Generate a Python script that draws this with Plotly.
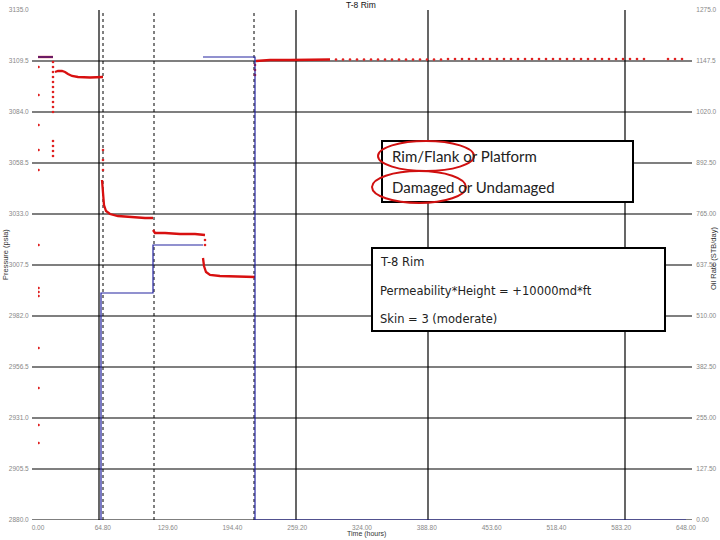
import plotly.graph_objects as go

# ---------------- data ----------------
time_ticks = [0, 64.8, 129.6, 194.4, 259.2, 324.0, 388.8, 453.6, 518.4, 583.2, 648.0]
time_tick_labels = ["0.00", "64.80", "129.60", "194.40", "259.20", "324.00",
                    "388.80", "453.60", "518.40", "583.20", "648.00"]

pressure_ticks = [2880.0, 2905.5, 2931.0, 2956.5, 2982.0, 3007.5, 3033.0, 3058.5, 3084.0, 3109.5, 3135.0]
pressure_tick_labels = ["2880.0", "2905.5", "2931.0", "2956.5", "2982.0", "3007.5",
                        "3033.0", "3058.5", "3084.0", "3109.5", "3135.0"]

rate_ticks = [0, 127.5, 255.0, 382.5, 510.0, 637.5, 765.0, 892.5, 1020.0, 1147.5, 1275.0]
rate_tick_labels = ["0.00", "127.50", "255.00", "382.50", "510.00", "637.50",
                    "765.00", "892.50", "1020.0", "1147.5", "1275.0"]

# gauge pressure, continuous segments (None separates segments)
p_seg_time = [0, 15, None,
              17, 20, 24, 27, 30, 34, 40, 52, 65, None,
              64, 65, 66, 68, 72, 80, 92, 107, 115, None,
              115, 117, 127, 142, 157, 167, None,
              165, 166, 168, 172, 182, 202, 217, None,
              218, 222, 232, 252, 272, 292]
p_seg_psia = [3111.5, 3111.5, None,
              3104.0, 3104.5, 3104.5, 3104.0, 3103.0, 3102.0, 3101.5, 3101.25, 3101.5, None,
              3050.0, 3042.5, 3037.5, 3034.5, 3033.0, 3032.0, 3031.5, 3031.0, 3031.0, None,
              3025.0, 3023.5, 3023.5, 3023.0, 3023.0, 3022.5, None,
              3011.0, 3007.0, 3004.0, 3002.5, 3002.0, 3001.5, 3001.5, None,
              3109.5, 3109.75, 3110.0, 3110.0, 3110.25, 3110.25]

# isolated gauge samples (rate changes, spikes, late sparse recording)
p_dot_time = [15, 15, 15, 15, 15, 15, 15, 15, 15, 15, 15, 15, 15, 15, 15,
              65, 65, 65, 167, 167, 217, 217, 217,
              0.5, 0.5, 0.5, 0.5, 0.5, 0.5, 0.5, 0.5, 0.5, 0.5, 0.5, 0.5, 0.5,
              298, 305, 312, 319, 326, 333, 340, 347, 354, 361, 368, 375, 382, 389, 396, 403,
              410, 417, 424, 431, 438, 445, 452, 459, 466, 473, 480, 487, 494, 501, 508, 515,
              522, 529, 536, 543, 550, 557, 564, 571, 578, 585, 592, 599, 606, 630, 637, 644]
p_dot_psia = [3109.0, 3106.5, 3104.0, 3101.5, 3099.0, 3096.5, 3094.0, 3091.5, 3089.0, 3086.5, 3084.0,
              3069.5, 3067.0, 3064.5, 3062.0,
              3065.0, 3060.0, 3055.0, 3020.0, 3017.5, 3102.5, 3105.0, 3107.5,
              3106.5, 3092.5, 3077.5, 3065.0, 3055.0, 3017.5, 2996.0, 2994.0, 2992.0, 2966.0, 2946.0, 2927.5, 2918.5,
              3110.25, 3110.25, 3110.25, 3110.25, 3110.25, 3110.25, 3110.25, 3110.25, 3110.25, 3110.25,
              3110.25, 3110.25, 3110.25, 3110.25, 3110.25, 3110.25, 3110.5, 3110.5, 3110.5, 3110.5,
              3110.5, 3110.5, 3110.5, 3110.5, 3110.5, 3110.5, 3110.5, 3110.5, 3110.5, 3110.5,
              3110.5, 3110.5, 3110.5, 3110.5, 3110.5, 3110.5, 3110.5, 3110.5, 3110.5, 3110.5,
              3110.5, 3110.5, 3110.5, 3110.5, 3110.5, 3110.5, 3110.5, 3110.5]

# oil rate schedule (STB/day), segments separated by None
rate_time = [0, 15, None, 63, 63, 115, 115, 165, None, 165, 217, 217, 648]
rate_stb = [1157.5, 1157.5, None, 0, 567.5, 567.5, 687.5, 687.5, None, 1157.5, 1157.5, 0, 0]

# event markers on the time axis
event_solid = [61, 258, 390, 587]
event_dotted = [65, 116, 216]

# ---------------- layout helpers ----------------
W, H = 720, 540
L, R, T, B = 38, 686, 10, 520          # plot area in pixels


def fx(px):
    return (px - L) / (R - L)


def fy(py):
    return (B - py) / (B - T)


fig = go.Figure()

fig.add_trace(go.Scatter(x=rate_time, y=rate_stb, mode="lines", yaxis="y2",
                         line=dict(color="#2424a0", width=1.2), connectgaps=False,
                         hoverinfo="skip", showlegend=False))
fig.add_trace(go.Scatter(x=p_seg_time, y=p_seg_psia, mode="lines",
                         line=dict(color="#d81010", width=2.3), connectgaps=False,
                         showlegend=False))
fig.add_trace(go.Scatter(x=p_dot_time, y=p_dot_psia, mode="markers",
                         marker=dict(color="#e02020", size=2.6), showlegend=False))

shapes = []
# horizontal grid (no line at the top tick)
for v in pressure_ticks[:-1]:
    shapes.append(dict(type="line", xref="paper", yref="y", x0=fx(32), x1=fx(692), y0=v, y1=v,
                       line=dict(color="black", width=1.2), layer="below"))
for t in event_solid:
    shapes.append(dict(type="line", xref="x", yref="paper", x0=t, x1=t, y0=0, y1=1,
                       line=dict(color="black", width=1.2), layer="below"))
for t in event_dotted:
    shapes.append(dict(type="line", xref="x", yref="paper", x0=t, x1=t, y0=0, y1=1,
                       line=dict(color="black", width=1, dash="dot"), layer="below"))
# text boxes
shapes.append(dict(type="rect", xref="paper", yref="paper", x0=fx(382), x1=fx(633), y0=fy(202), y1=fy(141),
                   fillcolor="white", line=dict(color="black", width=2), layer="above"))
shapes.append(dict(type="rect", xref="paper", yref="paper", x0=fx(372), x1=fx(665), y0=fy(331), y1=fy(248),
                   fillcolor="white", line=dict(color="black", width=2), layer="above"))
# red ellipses
shapes.append(dict(type="circle", xref="paper", yref="paper", x0=fx(378), x1=fx(474), y0=fy(171), y1=fy(141),
                   line=dict(color="#d01010", width=2), layer="above"))
shapes.append(dict(type="circle", xref="paper", yref="paper", x0=fx(372), x1=fx(466), y0=fy(203), y1=fy(171),
                   line=dict(color="#d01010", width=2), layer="above"))

ann = []


def text(x, y, s, size, family, color="#222", xanchor="left", angle=0):
    ann.append(dict(xref="paper", yref="paper", x=fx(x), y=fy(y), text=s, showarrow=False,
                    xanchor=xanchor, yanchor="middle", textangle=angle,
                    font=dict(size=size, family=family, color=color)))


text(390, 156, "Rim/Flank or Platform", 15, "Lato")
text(390, 187, "Damaged or Undamaged", 15, "Lato")
text(378, 262, "T-8 Rim", 11.5, "DejaVu Sans")
text(378, 291, "Permeability*Height = +10000md*ft", 11.5, "DejaVu Sans")
text(378, 319, "Skin = 3 (moderate)", 11.5, "DejaVu Sans")
text(361, 5, "T-8 Rim", 8.5, "Liberation Sans", color="#111", xanchor="center")
text(366, 534, "Time (hours)", 7, "Liberation Sans", color="#333", xanchor="center")
text(6, 255, "Pressure (psia)", 7.5, "Liberation Sans", color="#333", xanchor="center", angle=-90)
text(713, 259, "Oil Rate (STB/day)", 7.5, "Liberation Sans", color="#333", xanchor="center", angle=-90)

tick_font = dict(size=6.5, color="#888", family="Liberation Sans")
fig.update_layout(
    width=W, height=H,
    margin=dict(l=L, r=W - R, t=T, b=H - B, pad=0, autoexpand=False),
    paper_bgcolor="white", plot_bgcolor="white",
    showlegend=False,
    shapes=shapes, annotations=ann,
    xaxis=dict(range=[0, 648], tickvals=time_ticks, ticktext=time_tick_labels, automargin=False,
               showgrid=False, zeroline=False, showline=False, ticks="outside", ticklen=1,
               tickcolor="rgba(0,0,0,0)", tickfont=tick_font),
    yaxis=dict(range=[2880, 3135], tickvals=pressure_ticks, ticktext=pressure_tick_labels, automargin=False,
               showgrid=False, zeroline=False, showline=False, ticks="outside", ticklen=7,
               tickcolor="rgba(0,0,0,0)", tickfont=tick_font),
    yaxis2=dict(range=[0, 1275], tickvals=rate_ticks, ticktext=rate_tick_labels, overlaying="y", side="right",
                automargin=False,
                showgrid=False, zeroline=False, showline=False, ticks="outside", ticklen=8,
                tickcolor="rgba(0,0,0,0)", tickfont=tick_font),
)

# remove the browser's default page margin so the figure fills the window exactly
fig.write_html("out.html", config={"displayModeBar": False},
               post_script="document.body.style.margin='0px';")
